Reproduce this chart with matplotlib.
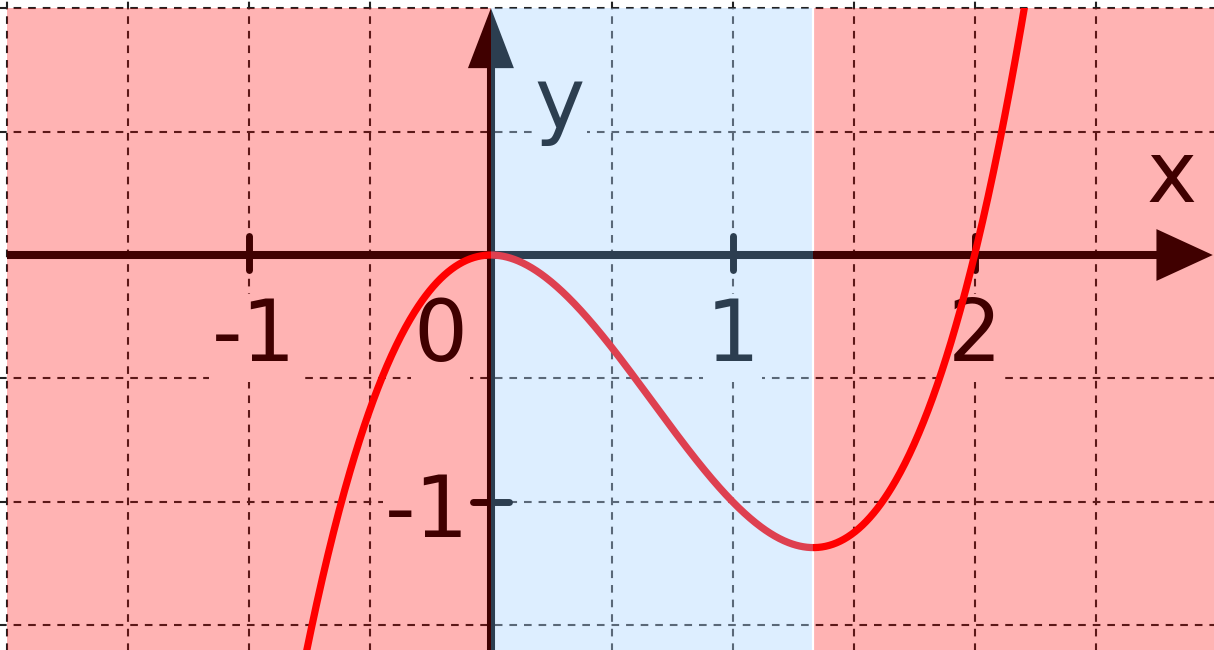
import numpy as np
import matplotlib.pyplot as plt
from matplotlib.patches import Rectangle, Polygon

plt.rcParams['lines.scale_dashes'] = False

# cubic: double root at 0, root at 2 -> y = x^3 - 2x^2
coeffs = [1, -2, 0, 0]
x_turn = 4 / 3          # local minimum, where the shading changes
curve_range = (-0.8, 2.25)

grid_x = [-2, -1.5, -1, -0.5, 0.5, 1, 1.5, 2, 2.5]
grid_y = [-1.5, -1, -0.5, 0.5, 1]
xtick_vals = [-1, 1, 2]
xtick_labels = ['-1', '1', '2']
ytick_vals = [-1]
ytick_labels = ['-1']

xlim = (-2.03, 2.99)
ylim = (-1.60, 1.033)

styles = {
    'pink': dict(bg='#ffb3b3', ink='#400000', grid='#5c1818', curve='#ff0000'),
    'blue': dict(bg='#ddeeff', ink='#2c3e50', grid='#5a6878', curve='#de4050'),
}
regions = [(-2, 0, 'pink'), (0, x_turn, 'blue'), (x_turn, 6, 'pink')]


def region_of(x):
    for x0, x1, name in regions:
        if x0 <= x < x1:
            return styles[name]
    return styles['pink']


def draw_grid(ax, color, clip=None, z=2):
    arts = []
    for gx in grid_x:
        arts += ax.plot([gx, gx], [ylim[0] - 1, ylim[1] + 1], color=color, lw=1.5,
                        dashes=(5.5, 5), zorder=z)
    for gy in grid_y:
        arts += ax.plot([xlim[0] - 1, xlim[1] + 1], [gy, gy], color=color, lw=1.5,
                        dashes=(5.5, 5), zorder=z)
    if clip is not None:
        for a in arts:
            a.set_clip_path(clip)


def draw_axes(ax, color, clip):
    arts = []
    arts += ax.plot([-2.0, 2.8], [0, 0], color=color, lw=5.8, solid_capstyle='butt', zorder=5)
    arts += ax.plot([0, 0], [ylim[0] - 0.1, 0.8], color=color, lw=5.8, solid_capstyle='butt', zorder=5)
    for t in xtick_vals:
        arts += ax.plot([t, t], [0.075, -0.06], color=color, lw=5.0, solid_capstyle='round', zorder=5)
    for t in ytick_vals:
        arts += ax.plot([-0.075, 0.075], [t, t], color=color, lw=5.0, solid_capstyle='round', zorder=5)
    # arrow heads
    arts.append(ax.add_patch(Polygon([[2.752, 0.105], [2.985, 0], [2.752, -0.105]],
                                     closed=True, fc=color, ec='none', zorder=5)))
    arts.append(ax.add_patch(Polygon([[-0.095, 0.757], [0, 1.0], [0.095, 0.757]],
                                     closed=True, fc=color, ec='none', zorder=5)))
    for a in arts:
        a.set_clip_path(clip)


def label(ax, x, y, s, ha='center'):
    st = region_of(x)
    ax.text(x, y, s, fontsize=61, color=st['ink'], ha=ha, va='baseline', zorder=4,
            bbox=dict(boxstyle='square,pad=0.03', fc=st['bg'], ec='none'))


fig = plt.figure(figsize=(12.14, 6.5), dpi=100)
ax = fig.add_axes([0, 0, 1, 1])
ax.set_xlim(*xlim)
ax.set_ylim(*ylim)
ax.axis('off')

# grid in the white margin
draw_grid(ax, '#222222', z=0)

xs = np.linspace(curve_range[0], curve_range[1], 800)
ys = np.polyval(coeffs, xs)

for x0, x1, name in regions:
    st = styles[name]
    ax.add_patch(Rectangle((x0, -5), x1 - x0, 6, fc=st['bg'], ec='none', zorder=1))
    clip = Rectangle((x0, -5), x1 - x0, 6, transform=ax.transData)
    draw_grid(ax, st['grid'], clip=clip, z=2)
    draw_axes(ax, st['ink'], clip)
    line, = ax.plot(xs, ys, color=st['curve'], lw=5.2, zorder=6, solid_capstyle='butt')
    line.set_clip_path(clip)

ax.plot([x_turn, x_turn], [-5, 1.0], color='white', lw=1.6, zorder=3)

label(ax, -0.98, -0.43, xtick_labels[0])
label(ax, 1.0, -0.43, xtick_labels[1])
label(ax, 2.0, -0.43, xtick_labels[2])
label(ax, -0.207, -0.43, '0')
label(ax, -0.262, -1.142, ytick_labels[0])
label(ax, 0.285, 0.514, 'y')
label(ax, 2.814, 0.215, 'x')

fig.savefig('out.png', dpi=100)
